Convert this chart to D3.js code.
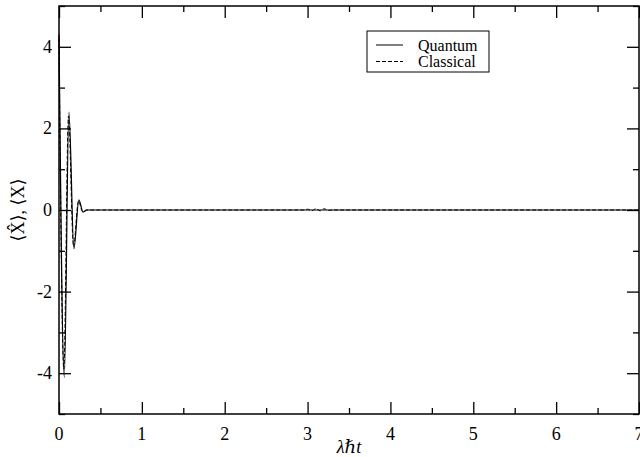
<!DOCTYPE html>
<html>
<head>
<meta charset="utf-8">
<script src="https://cdn.jsdelivr.net/npm/d3@7"></script>
<style>
  body { margin: 0; background: #fff; }
</style>
</head>
<body>
<div id="chart"></div>
<script>
let canvasWidth = 640;
let canvasHeight = 457;

// plot box
let plotLeft = 59, plotRight = 639, plotTop = 6, plotBottom = 414;

// data
let quantumT = [0, 0.064, 0.12, 0.18, 0.24, 0.29, 0.34, 7];
let quantumX = [4.3, -4.1, 2.4, -0.95, 0.25, -0.05, 0, 0];
let classicalT = [0, 0.058, 0.114, 0.175, 0.235, 0.285, 0.33, 2.95, 3.0, 3.05, 3.1, 3.15, 3.2, 3.25, 3.3, 7];
let classicalX = [4.2, -3.9, 2.3, -0.9, 0.22, -0.04, 0, 0, 0.02, -0.02, 0.03, -0.02, 0.03, -0.01, 0, 0];
let xMajor = [0, 1, 2, 3, 4, 5, 6, 7];
let xMinor = [0.5, 1.5, 2.5, 3.5, 4.5, 5.5, 6.5];
let yMajor = [-4, -2, 0, 2, 4];
let yMinor = [-5, -3, -1, 1, 3, 5];

let quantum = quantumT.map((t, i) => [t, quantumX[i]]);
let classical = classicalT.map((t, i) => [t, classicalX[i]]);

let svg = d3.select("#chart")
    .append("svg")
    .attr("width", canvasWidth)
    .attr("height", canvasHeight)
    .attr("font-family", "'Times New Roman', 'Liberation Serif', 'DejaVu Serif', serif");

let xScale = d3.scaleLinear().domain([0, 7]).range([plotLeft, plotRight]);
let yScale = d3.scaleLinear().domain([-5, 5]).range([plotBottom, plotTop]);

let line = d3.line()
    .x(d => xScale(d[0]))
    .y(d => yScale(d[1]))
    .curve(d3.curveMonotoneX);

// classical first (dashed), quantum on top
svg.append("path")
    .datum(classical)
    .attr("fill", "none")
    .attr("stroke", "#000")
    .attr("stroke-width", 1)
    .attr("stroke-dasharray", "4,2")
    .attr("d", line);

svg.append("path")
    .datum(quantum)
    .attr("fill", "none")
    .attr("stroke", "#000")
    .attr("stroke-width", 1.2)
    .attr("d", line);

// frame with inward ticks
let axisG = svg.append("g");

// bottom
axisG.append("g")
    .attr("transform", "translate(0," + plotBottom + ")")
    .call(d3.axisTop(xScale).tickValues(xMajor).tickSize(12).tickSizeOuter(0).tickFormat(""));
axisG.append("g")
    .attr("transform", "translate(0," + plotBottom + ")")
    .call(d3.axisTop(xScale).tickValues(xMinor).tickSize(6).tickSizeOuter(0).tickFormat(""));
// top
axisG.append("g")
    .attr("transform", "translate(0," + plotTop + ")")
    .call(d3.axisBottom(xScale).tickValues(xMajor).tickSize(12).tickSizeOuter(0).tickFormat(""));
axisG.append("g")
    .attr("transform", "translate(0," + plotTop + ")")
    .call(d3.axisBottom(xScale).tickValues(xMinor).tickSize(6).tickSizeOuter(0).tickFormat(""));
// left
axisG.append("g")
    .attr("transform", "translate(" + plotLeft + ",0)")
    .call(d3.axisRight(yScale).tickValues(yMajor).tickSize(12).tickSizeOuter(0).tickFormat(""));
axisG.append("g")
    .attr("transform", "translate(" + plotLeft + ",0)")
    .call(d3.axisRight(yScale).tickValues(yMinor).tickSize(6).tickSizeOuter(0).tickFormat(""));
// right
axisG.append("g")
    .attr("transform", "translate(" + plotRight + ",0)")
    .call(d3.axisLeft(yScale).tickValues(yMajor).tickSize(12).tickSizeOuter(0).tickFormat(""));
axisG.append("g")
    .attr("transform", "translate(" + plotRight + ",0)")
    .call(d3.axisLeft(yScale).tickValues(yMinor).tickSize(6).tickSizeOuter(0).tickFormat(""));

axisG.selectAll(".domain").remove();
axisG.selectAll("line").attr("stroke", "#000").attr("stroke-width", 1.3);

svg.append("rect")
    .attr("x", plotLeft)
    .attr("y", plotTop)
    .attr("width", plotRight - plotLeft)
    .attr("height", plotBottom - plotTop)
    .attr("fill", "none")
    .attr("stroke", "#000")
    .attr("stroke-width", 1.5);

// tick labels
svg.selectAll(".xlab")
    .data(xMajor)
    .enter().append("text")
    .attr("x", d => xScale(d))
    .attr("y", 440)
    .attr("text-anchor", "middle")
    .attr("font-size", 18)
    .text(d => d);

svg.selectAll(".ylab")
    .data(yMajor)
    .enter().append("text")
    .attr("x", 52)
    .attr("y", d => yScale(d) + 6)
    .attr("text-anchor", "end")
    .attr("font-size", 18)
    .text(d => d);

// axis titles
svg.append("text")
    .attr("x", 349)
    .attr("y", 453)
    .attr("text-anchor", "middle")
    .attr("font-size", 18)
    .attr("font-style", "italic")
    .text("λℏt");

svg.append("text")
    .attr("transform", "translate(24," + yScale(0) + ") rotate(-90)")
    .attr("text-anchor", "middle")
    .attr("font-size", 18)
    .text("⟨X̂⟩, ⟨X⟩");

// legend
let legend = svg.append("g");
legend.append("rect")
    .attr("x", 367).attr("y", 31)
    .attr("width", 122).attr("height", 41)
    .attr("fill", "#fff")
    .attr("stroke", "#000")
    .attr("stroke-width", 1);

let legendItems = [["Quantum", null], ["Classical", "4,2"]];
legendItems.forEach((item, i) => {
    let y = 45 + i * 16.5;
    legend.append("line")
        .attr("x1", 376).attr("x2", 403)
        .attr("y1", y).attr("y2", y)
        .attr("stroke", "#000")
        .attr("stroke-width", 1)
        .attr("stroke-dasharray", item[1]);
    legend.append("text")
        .attr("x", 418)
        .attr("y", y + 5.5)
        .attr("font-size", 16)
        .text(item[0]);
});
</script>
</body>
</html>
